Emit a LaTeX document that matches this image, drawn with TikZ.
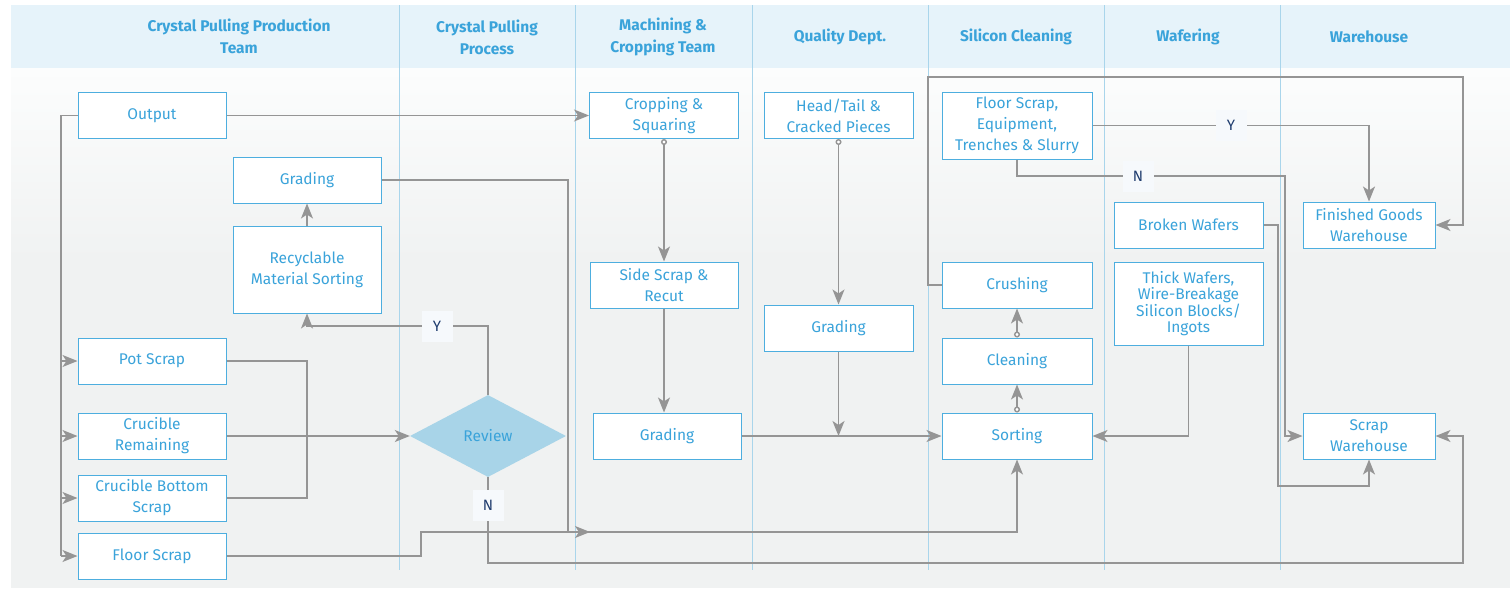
\documentclass[tikz,border=0pt]{standalone}
\usepackage{fontspec}
\setmainfont{Fira Sans}
\usetikzlibrary{arrows.meta,shapes.geometric,calc}
\definecolor{txtblue}{HTML}{3AA3DA}
\definecolor{boxblue}{HTML}{4DAEDF}
\definecolor{headbg}{HTML}{E6F3FA}
\definecolor{laneline}{HTML}{A9D5EB}
\definecolor{wirec}{HTML}{959595}
\definecolor{navy}{HTML}{1F3C6E}
\definecolor{tagbg}{HTML}{F6F9FC}
\definecolor{dfill}{HTML}{A8D4E8}
\definecolor{bgtop}{HTML}{FCFDFD}
\definecolor{bgbot}{HTML}{F0F2F2}
\tikzset{
  box/.style={draw=boxblue, line width=1pt, fill=white, minimum width=148pt,
    minimum height=46pt, align=center, text=txtblue, inner sep=1pt,
    font=\fontsize{15.5}{21}\selectfont},
  hd/.style={text=txtblue, align=center, font=\bfseries\fontsize{15.5}{22}\selectfont},
  wire/.style={draw=wirec, line width=1.4pt},
  arr/.style={wire, -{Stealth[length=15pt,width=12pt,inset=4pt]}},
  circarr/.style={wire, {Circle[open,length=6pt,width=6pt,fill=white]}-{Stealth[length=15pt,width=12pt,inset=4pt]}},
  tag/.style={fill=tagbg, text=navy, minimum size=31pt, inner sep=0pt,
    font=\fontsize{15}{15}\selectfont},
  lane/.style={draw=laneline, line width=0.8pt}
}
\begin{document}
\begin{tikzpicture}[x=1pt,y=-1pt]
\useasboundingbox (0,0) rectangle (1510,592);
% header band and body background
\fill[headbg] (11,5) rectangle (1510,68);
\shade[top color=bgtop, bottom color=bgbot] (11,68) rectangle (1510,260);
\fill[bgbot] (11,260) rectangle (1510,588);
% swimlane separators
\foreach \lx in {399,575,752,928,1104,1280}
  \draw[lane] (\lx,5) -- (\lx,570);
% lane titles
\node[hd] (h1) at (239,36) {Crystal Pulling Production\\Team};
\node[hd] (h2) at (487,37) {Crystal Pulling\\Process};
\node[hd] (h3) at (663,37) {Machining \&\\Cropping Team};
\node[hd] (h4) at (840,37) {Quality Dept.};
\node[hd] (h5) at (1016,37) {Silicon Cleaning};
\node[hd] (h6) at (1188,37) {Wafering};
\node[hd] (h7) at (1369,37) {Warehouse};
% crystal pulling production team
\node[box] (output) at (152,115.5) {Output};
\node[box] (gradL) at (307,180) {Grading};
\node[box, minimum height=87pt] (recyc) at (307,269.5) {Recyclable\\Material Sorting};
\node[box] (pot) at (152,361) {Pot Scrap};
\node[box] (crucr) at (152,436) {Crucible\\Remaining};
\node[box] (crucb) at (152,498) {Crucible Bottom\\Scrap};
\node[box] (floor) at (152,556) {Floor Scrap};
% crystal pulling process
\node[shape=diamond, fill=dfill, text=txtblue, inner sep=0pt, aspect=1.9,
  minimum width=156pt, minimum height=82pt, font=\fontsize{15.5}{16}\selectfont]
  (review) at (488,436) {Review};
% machining and cropping team
\node[box, minimum width=149pt] (crop) at (664,115.5) {Cropping \&\\Squaring};
\node[box] (side) at (664,285) {Side Scrap \&\\Recut};
\node[box] (gradM) at (667,436) {Grading};
% quality department
\node[box, minimum width=149pt] (head) at (838.5,115.5) {Head/Tail \&\\Cracked Pieces};
\node[box, minimum width=149pt] (gradQ) at (838.5,328) {Grading};
% silicon cleaning
\node[box, minimum width=150pt, minimum height=67pt] (flooreq) at (1017,125.5) {Floor Scrap,\\Equipment,\\Trenches \& Slurry};
\node[box, minimum width=150pt] (crushing) at (1017,285) {Crushing};
\node[box, minimum width=150pt] (cleaning) at (1017,361) {Cleaning};
\node[box, minimum width=150pt] (sorting) at (1017,436) {Sorting};
% wafering
\node[box, minimum width=149pt] (broken) at (1188.5,225) {Broken Wafers};
\node[box, minimum width=149pt, minimum height=83pt, font=\fontsize{15.5}{16.5}\selectfont] (thick) at (1188.5,303.5) {Thick Wafers,\\Wire-Breakage\\Silicon Blocks/\\Ingots};
% warehouse
\node[box, minimum width=132pt] (finished) at (1369,225) {Finished Goods\\Warehouse};
\node[box, minimum width=132pt] (scrapw) at (1369,436) {Scrap\\Warehouse};
% routing points
\coordinate (tkbot) at (61,556);
\coordinate (merge) at (307,436);
\coordinate (ybend) at (307,326);
\coordinate (nbot) at (488,563);
\coordinate (nright) at (1463,563);
\coordinate (gjoin) at (568,532);
\coordinate (gtip) at (590,532);
\coordinate (fup) at (421,532);
\coordinate (c1) at (928,77);
\coordinate (c2) at (1463,77);
\coordinate (n2) at (1285,176);
\coordinate (b1) at (1278,486);
% output distribution
\draw[wire] (output.west) -| (tkbot);
\draw[arr] (tkbot |- pot.west) -- (pot.west);
\draw[arr] (tkbot |- crucr.west) -- (crucr.west);
\draw[arr] (tkbot |- crucb.west) -- (crucb.west);
\draw[arr] (tkbot) -- (floor.west);
\draw[arr] (output.east) -- (crop.west);
% scrap to review
\draw[wire] (pot.east) -| (merge);
\draw[wire] (crucb.east) -| (merge);
\draw[arr] (crucr.east) -- (review.west);
\draw[arr] (recyc.north) -- (gradL.south);
\draw[arr] (review.north) |- (ybend) -- (recyc.south);
\draw[arr] (review.south) -- (nbot) -- (nright) |- (scrapw.east);
% to sorting
\draw[arr] (gradL.east) -| (gjoin) -- (gtip);
\draw[arr] (floor.east) -| (fup) -| (sorting.south);
\draw[circarr] (crop.south) -- (side.north);
\draw[arr] (side.south) -- (side.south |- gradM.north);
\draw[arr] (gradM.east) -- (sorting.west);
\draw[circarr] (head.south) -- (gradQ.north);
\draw[arr] (gradQ.south) -- (gradQ.south |- sorting.west);
\draw[circarr] (sorting.north) -- (cleaning.south);
\draw[circarr] (cleaning.north) -- (crushing.south);
\draw[arr] (thick.south) |- (sorting.east);
% to warehouses
\draw[arr] (crushing.west) -| (c1) -- (c2) |- (finished.east);
\draw[arr] (flooreq.east) -| (finished.north);
\draw[arr] (flooreq.south) |- (n2) |- (scrapw.west);
\draw[arr] (broken.east) -| (b1) -| (scrapw.south);
% decision tags
\node[tag] (ty1) at (437,326) {Y};
\node[tag] (tn1) at (488,505) {N};
\node[tag] (ty2) at (1231,125) {Y};
\node[tag] (tn2) at (1138,176) {N};
\end{tikzpicture}
\end{document}
